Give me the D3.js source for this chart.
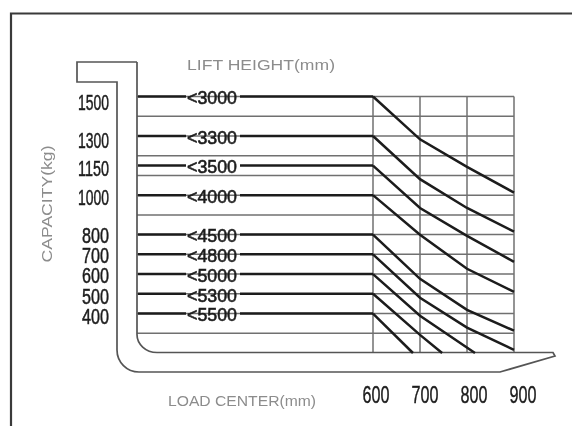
<!DOCTYPE html>
<html><head><meta charset="utf-8">
<script src="https://cdn.jsdelivr.net/npm/d3@7"></script>
<style>html,body{margin:0;padding:0;background:#fff}svg{display:block;filter:blur(0.45px)}</style>
</head><body><svg id="c" width="572" height="426"></svg>
<script>
const capacityTicks=[1500,1300,1150,1000,800,700,600,500,400];
const liftLabels=["<3000","<3300","<3500","<4000","<4500","<4800","<5000","<5300","<5500"];
const gridCaps=[1500,1400,1300,1200,1100,1000,900,800,700,600,500,400,300];
const loadTicks=[600,700,800,900];
const curveLoads=[
 [600,700,800,900],[600,700,800,900],[600,700,800,900],[600,700,800,900],[600,700,800,900],
 [600,700,800,900],[600,700,817],[600,700,747],[600,685]];
const curveCaps=[
 [1500,1283,1143,1013],[1300,1081,935,815],[1150,935,794,662],[1000,799,627,510],[800,576,419,313],
 [700,480,329,216],[600,389,200],[500,292,200],[400,200]];

const svg=d3.select("#c");
const x=d3.scaleLinear().domain([600,900]).range([373,514]);
const y=d3.scaleLinear().domain([1500,200]).range([96.5,353]);
const capLabelY=d3.scaleLinear().domain([1500,800,400]).range([102,235,316]);
const loadLabelX=d3.scaleLinear().domain([600,900]).range([376,523]);
const xStart=137, gridBottom=y(200)-1;
const ink="#1c1c1c", gray="#707070", txt="#8c8c8c";
const font="'Liberation Sans',sans-serif";

// outer frame
svg.append("path").attr("d","M11,426V13.5H572").attr("fill","none").attr("stroke","#3a3a3a").attr("stroke-width",2.2);

// grid
svg.append("g").selectAll("line").data(gridCaps).join("line")
 .attr("x1",xStart).attr("x2",x(900)).attr("y1",d=>y(d)).attr("y2",d=>y(d))
 .attr("stroke",gray).attr("stroke-width",1.5);
svg.append("g").selectAll("line").data(loadTicks).join("line")
 .attr("x1",d=>x(d)).attr("x2",d=>x(d)).attr("y1",y(1500)).attr("y2",gridBottom)
 .attr("stroke",gray).attr("stroke-width",1.5);

// fork outline
svg.append("path").attr("d","M137,62H77V82H117V350A22,22 0 0 0 139,372H500L555,356L553,352.5H157A20,18 0 0 1 137,334V62")
 .attr("fill","none").attr("stroke","#555").attr("stroke-width",1.7);

// capacity curves
const line=d3.line().x(d=>x(d[0])).y(d=>y(d[1]));
capacityTicks.forEach((c,i)=>{
 const pts=curveLoads[i].map((l,j)=>[l,curveCaps[i][j]]);
 svg.append("path").attr("d",line(pts)).attr("fill","none").attr("stroke",ink).attr("stroke-width",2.5);
 svg.append("line").attr("x1",xStart+1).attr("x2",186).attr("y1",y(c)).attr("y2",y(c))
  .attr("stroke",ink).attr("stroke-width",2.5);
 svg.append("line").attr("x1",240).attr("x2",x(600)).attr("y1",y(c)).attr("y2",y(c))
  .attr("stroke",ink).attr("stroke-width",2.5);
});

// lift height labels
svg.append("g").selectAll("text").data(capacityTicks).join("text")
 .attr("x",212).attr("y",d=>y(d)+1).attr("dy","0.36em").attr("text-anchor","middle")
 .attr("font-size",19).attr("fill",ink).attr("stroke",ink).attr("stroke-width",0.6).attr("font-family",font)
 .attr("textLength",50).attr("lengthAdjust","spacingAndGlyphs")
 .text((d,i)=>liftLabels[i]);

// capacity labels
svg.append("g").selectAll("text").data(capacityTicks).join("text")
 .attr("x",109).attr("y",d=>capLabelY(d)).attr("dy","0.36em").attr("text-anchor","end")
 .attr("font-size",22).attr("fill",ink).attr("stroke",ink).attr("stroke-width",0.5).attr("font-family",font)
 .attr("textLength",d=>d>=1000?31:27).attr("lengthAdjust","spacingAndGlyphs")
 .text(d=>d);

// load labels
svg.append("g").selectAll("text").data(loadTicks).join("text")
 .attr("x",d=>loadLabelX(d)).attr("y",394).attr("dy","0.36em").attr("text-anchor","middle")
 .attr("font-size",24).attr("fill",ink).attr("stroke",ink).attr("stroke-width",0.4).attr("font-family",font)
 .attr("textLength",27).attr("lengthAdjust","spacingAndGlyphs")
 .text(d=>d);

// titles
const title=(t,xp,yp,len,rot)=>svg.append("text").attr("transform",`translate(${xp},${yp})`+(rot?" rotate(-90)":""))
 .attr("text-anchor","middle").attr("font-family",font).attr("font-size",15).attr("fill",txt)
 .attr("textLength",len).attr("lengthAdjust","spacingAndGlyphs").text(t);
title("LIFT HEIGHT(mm)",261,70,148);
title("LOAD CENTER(mm)",242,406,148);
title("CAPACITY(kg)",52,204,117,true);
</script></body></html>
